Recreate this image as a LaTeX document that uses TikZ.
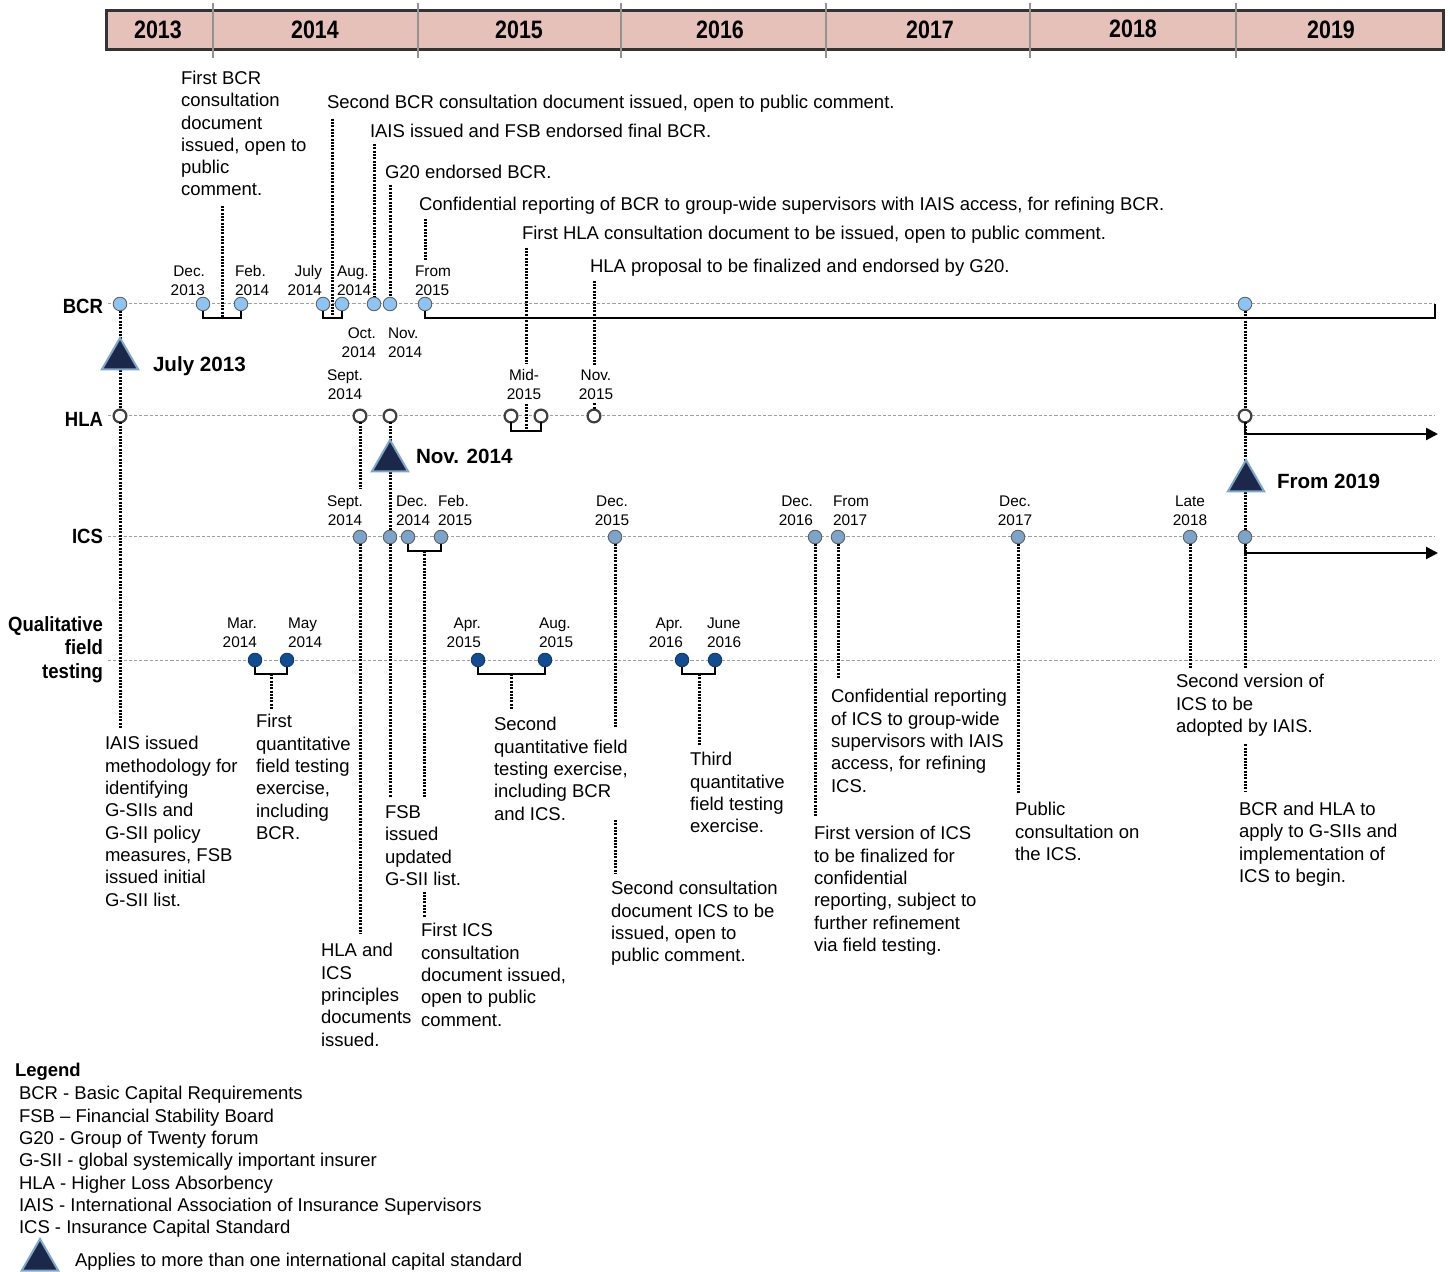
\documentclass[tikz,border=0pt]{standalone}
\usepackage{fontspec}
\setmainfont{Liberation Sans}
\newfontfamily\narrowbf{Liberation Sans}[FakeStretch=0.85]
\newfontfamily\rowbf{Liberation Sans}[FakeStretch=0.9]
\usetikzlibrary{shapes.geometric,arrows.meta}
\definecolor{barfill}{RGB}{229,193,185}
\definecolor{bcrblue}{RGB}{142,196,243}
\definecolor{icsblue}{RGB}{124,164,200}
\definecolor{qftblue}{RGB}{16,77,145}
\definecolor{trifill}{RGB}{27,40,74}
\definecolor{triedge}{RGB}{126,166,203}
\begin{document}
\begin{tikzpicture}[x=0.5pt,y=-0.5pt,
  every node/.style={inner sep=0pt, outer sep=0pt},
  txt/.style={font=\fontsize{9.25}{11.15}\selectfont, align=left, anchor=north west},
  dtc/.style={font=\fontsize{7.7}{9.5}\selectfont, align=center, anchor=north},
  dtl/.style={font=\fontsize{7.7}{9.5}\selectfont, align=left, anchor=north west},
  dtr/.style={font=\fontsize{7.7}{9.5}\selectfont, align=right, anchor=north east},
  year/.style={font=\narrowbf\bfseries\fontsize{12.6}{14}\selectfont},
  rowlbl/.style={font=\rowbf\bfseries\fontsize{10.3}{11.75}\selectfont, align=right},
  trilbl/.style={font=\bfseries\fontsize{10.3}{12}\selectfont, anchor=base west},
  conn/.style={line width=1.5pt, dash pattern=on 1pt off 0.65pt},
  rowline/.style={draw=gray!75, line width=0.5pt, dash pattern=on 1.6pt off 1pt},
  brk/.style={line width=1.2pt},
  hdr/.style={draw=black!80, line width=1.5pt, fill=barfill},
  yrdiv/.style={draw=gray!85, line width=1pt},
  dotB/.style={circle, minimum size=6.8pt, fill=bcrblue, draw=gray!70!black, line width=0.4pt},
  dotH/.style={circle, minimum size=6.4pt, fill=white, draw=black!75, line width=1.1pt},
  dotI/.style={circle, minimum size=6.8pt, fill=icsblue, draw=gray!70!black, line width=0.4pt},
  dotQ/.style={circle, minimum size=6.8pt, fill=qftblue, draw=qftblue!70!black, line width=0.4pt},
  tri/.style={regular polygon, regular polygon sides=3, minimum size=21pt, fill=trifill, draw=triedge, line width=1pt},
]
\useasboundingbox (0,0) rectangle (1450,1272);

% ---------- header ----------
\draw[hdr] (106,11) rectangle (1443,50);
\foreach \xx in {213,418,621,826,1030,1236} \draw[yrdiv] (\xx,3) -- (\xx,58);
\node[year] (y2013) at (158,30) {2013};
\node[year] (y2014) at (315,30) {2014};
\node[year] (y2015) at (519,30) {2015};
\node[year] (y2016) at (720,30) {2016};
\node[year] (y2017) at (930,30) {2017};
\node[year] (y2018) at (1133,29) {2018};
\node[year] (y2019) at (1331,30) {2019};

% ---------- row labels ----------
\node[rowlbl, anchor=east] (lBCR) at (103,306) {BCR};
\node[rowlbl, anchor=east] (lHLA) at (103,419) {HLA};
\node[rowlbl, anchor=east] (lICS) at (103,536) {ICS};
\node[rowlbl, anchor=north east] (lQFT) at (103,616.5) {Qualitative\\field\\testing};

% ---------- row lines ----------
\draw[rowline] (108,304) -- (1435,304);
\draw[rowline] (108,416) -- (1435,416);
\draw[rowline] (108,537) -- (1435,537);
\draw[rowline] (108,660) -- (1435,660);

% ---------- texts top ----------
\node[txt] (tFirstBCR) at (181,71) {First BCR\\consultation\\document\\issued, open to\\public\\comment.};
\node[txt] (tSecondBCR) at (327,95.5) {Second BCR consultation document issued, open to public comment.};
\node[txt] (tIAISfinal) at (370,124.5) {IAIS issued and FSB endorsed final BCR.};
\node[txt] (tG20) at (385,165.5) {G20 endorsed BCR.};
\node[txt] (tConfBCR) at (419,197.5) {Confidential reporting of BCR to group-wide supervisors with IAIS access, for refining BCR.};
\node[txt] (tFirstHLA) at (522,226.5) {First HLA consultation document to be issued, open to public comment.};
\node[txt] (tHLAprop) at (590,259.5) {HLA proposal to be finalized and endorsed by G20.};

% ---------- texts bottom ----------
\node[txt] (tIAISmeth) at (105,736.5) {IAIS issued\\methodology for\\identifying\\G-SIIs and\\G-SII policy\\measures, FSB\\issued initial\\G-SII list.};
\node[txt] (tFirstQFT) at (256,714.5) {First\\quantitative\\field testing\\exercise,\\including\\BCR.};
\node[txt] (tHLAICS) at (321,943.5) {HLA and\\ICS\\principles\\documents\\issued.};
\node[txt] (tFSB) at (385,805.5) {FSB\\issued\\updated\\G-SII list.};
\node[txt] (tFirstICS) at (421,923.5) {First ICS\\consultation\\document issued,\\open to public\\comment.};
\node[txt] (tSecondQFT) at (494,717.5) {Second\\quantitative field\\testing exercise,\\including BCR\\and ICS.};
\node[txt] (tSecondICS) at (611,881.5) {Second consultation\\document ICS to be\\issued, open to\\public comment.};
\node[txt] (tThirdQFT) at (690,752.5) {Third\\quantitative\\field testing\\exercise.};
\node[txt] (tFirstVer) at (814,826.5) {First version of ICS\\to be finalized for\\confidential\\reporting, subject to\\further refinement\\via field testing.};
\node[txt] (tConfICS) at (831,689.5) {Confidential reporting\\of ICS to group-wide\\supervisors with IAIS\\access, for refining\\ICS.};
\node[txt] (tPublic) at (1015,802.5) {Public\\consultation on\\the ICS.};
\node[txt] (tSecondVer) at (1176,674.5) {Second version of\\ICS to be\\adopted by IAIS.};
\node[txt] (tBCRHLA) at (1239,802) {BCR and HLA to\\apply to G-SIIs and\\implementation of\\ICS to begin.};

% ---------- date labels ----------
\node[dtr] (dDec13) at (205,265.5) {Dec.\\2013};
\node[dtl] (dFeb14) at (235,265.5) {Feb.\\2014};
\node[dtr] (dJul14) at (322,265.5) {July\\2014};
\node[dtl] (dAug14) at (337,265.5) {Aug.\\2014};
\node[dtl] (dFrom15) at (415,265.5) {From\\2015};
\node[dtr] (dOct14) at (376,327.5) {Oct.\\2014};
\node[dtl] (dNov14) at (388,327.5) {Nov.\\2014};
\node[dtc] (dSep14h) at (345,369.5) {Sept.\\2014};
\node[dtc] (dMid15) at (524,369.5) {Mid-\\2015};
\node[dtc] (dNov15) at (596,369.5) {Nov.\\2015};
\node[dtc] (dSep14i) at (345,495.5) {Sept.\\2014};
\node[dtl] (dDec14) at (396,495.5) {Dec.\\2014};
\node[dtl] (dFeb15) at (438,495.5) {Feb.\\2015};
\node[dtc] (dDec15) at (612,495.5) {Dec.\\2015};
\node[dtr] (dDec16) at (813,495.5) {Dec.\\2016};
\node[dtl] (dFrom17) at (833,495.5) {From\\2017};
\node[dtc] (dDec17) at (1015,495.5) {Dec.\\2017};
\node[dtc] (dLate18) at (1190,495.5) {Late\\2018};
\node[dtr] (dMar14) at (257,617.5) {Mar.\\2014};
\node[dtl] (dMay14) at (288,617.5) {May\\2014};
\node[dtr] (dApr15) at (481,617.5) {Apr.\\2015};
\node[dtl] (dAug15) at (539,617.5) {Aug.\\2015};
\node[dtr] (dApr16) at (683,617.5) {Apr.\\2016};
\node[dtl] (dJun16) at (707,617.5) {June\\2016};

% ---------- circles ----------
\node[dotB] (b1) at (120,304) {}; \node[dotB] (b2) at (203,304) {}; \node[dotB] (b3) at (241,304) {};
\node[dotB] (b4) at (323,304) {}; \node[dotB] (b5) at (342,304) {}; \node[dotB] (b6) at (374,304) {};
\node[dotB] (b7) at (390,304) {}; \node[dotB] (b8) at (425,304) {}; \node[dotB] (b9) at (1245,304) {};

\node[dotH] (h1) at (120,416) {}; \node[dotH] (h2) at (360,416) {}; \node[dotH] (h3) at (390,416) {};
\node[dotH] (h4) at (511,416) {}; \node[dotH] (h5) at (541,416) {}; \node[dotH] (h6) at (594,416) {};
\node[dotH] (h7) at (1245,416) {};

\node[dotI] (i1) at (360,537) {}; \node[dotI] (i2) at (390,537) {}; \node[dotI] (i3) at (408,537) {};
\node[dotI] (i4) at (441,537) {}; \node[dotI] (i5) at (615,537) {}; \node[dotI] (i6) at (815,537) {};
\node[dotI] (i7) at (838,537) {}; \node[dotI] (i8) at (1018,537) {}; \node[dotI] (i9) at (1190,537) {};
\node[dotI] (i10) at (1245,537) {};

\node[dotQ] (q1) at (255,660) {}; \node[dotQ] (q2) at (287,660) {}; \node[dotQ] (q3) at (478,660) {};
\node[dotQ] (q4) at (545,660) {}; \node[dotQ] (q5) at (682,660) {}; \node[dotQ] (q6) at (715,660) {};

% ---------- bracket coordinates ----------
\coordinate (bkB1) at (222,318);
\coordinate (bkB2) at (332.5,318);
\coordinate (bkBR) at (1435,318);
\coordinate (bkH) at (526,431);
\coordinate (bkI) at (424,551);
\coordinate (bkQ1) at (271,674);
\coordinate (bkQ2) at (511,674);
\coordinate (bkQ3) at (699,674);
\coordinate (arrH) at (1438,434);
\coordinate (arrI) at (1438,553);
\coordinate (c615a) at (615,727);
\coordinate (c615b) at (615,820);

% ---------- dotted connectors ----------
\draw[conn] ([yshift=-5pt]tFirstBCR.south -| bkB1) -- (bkB1);
\draw[conn] ([yshift=-3pt]tSecondBCR.south -| bkB2) -- (bkB2);
\draw[conn] ([yshift=-3pt]tIAISfinal.south -| b6) -- (b6.north);
\draw[conn] ([yshift=-3pt]tG20.south -| b7) -- (b7.north);
\draw[conn] ([yshift=-2pt]tConfBCR.south -| b8) -- ([yshift=2pt]dFrom15.north -| b8);
\draw[conn] ([yshift=-2pt]tFirstHLA.south -| bkH) -- ([yshift=3pt]dMid15.north -| bkH);
\draw[conn] ([yshift=-2pt]dMid15.south -| bkH) -- (bkH);
\draw[conn] ([yshift=-2pt]tHLAprop.south -| h6) -- ([yshift=2pt]dNov15.north -| h6);
\draw[conn] ([yshift=-2pt]dNov15.south -| h6) -- (h6.north);
\draw[conn] (b1.south) -- (h1.north);
\draw[conn] (h1.south) -- ([yshift=4pt]tIAISmeth.north -| h1);
\draw[conn] (h2.south) -- ([yshift=3pt]dSep14i.north -| h2);
\draw[conn] (i1.south) -- ([yshift=5pt]tHLAICS.north -| i1);
\draw[conn] (h3.south) -- (i2.north);
\draw[conn] (i2.south) -- ([yshift=4pt]tFSB.north -| i2);
\draw[conn] (bkI) -- ([yshift=4pt]tFSB.north -| bkI);
\draw[conn] ([yshift=-3pt]tFSB.south -| bkI) -- ([yshift=3pt]tFirstICS.north -| bkI);
\draw[conn] (i5.south) -- (c615a);
\draw[conn] (c615b) -- ([yshift=4pt]tSecondICS.north -| i5);
\draw[conn] (bkQ1) -- ([yshift=3pt]tFirstQFT.north -| bkQ1);
\draw[conn] (bkQ2) -- ([yshift=4.5pt]tSecondQFT.north -| bkQ2);
\draw[conn] (bkQ3) -- ([yshift=3.5pt]tThirdQFT.north -| bkQ3);
\draw[conn] (i6.south) -- ([yshift=4.5pt]tFirstVer.north -| i6);
\draw[conn] (i7.south) -- ([yshift=6pt]tConfICS.north -| i7);
\draw[conn] (i8.south) -- ([yshift=5pt]tPublic.north -| i8);
\draw[conn] (i9.south) -- ([yshift=3.5pt]tSecondVer.north -| i9);
\draw[conn] (b9.south) -- (h7.north);
\draw[conn] (h7.south) -- (i10.north);
\draw[conn] (i10.south) -- ([yshift=3.5pt]tSecondVer.north -| i10);
\draw[conn] ([yshift=-4pt]tSecondVer.south -| i10) -- ([yshift=5pt]tBCRHLA.north -| i10);

% ---------- brackets and arrows ----------
\draw[brk] (b2.south) |- (bkB1) -| (b3.south);
\draw[brk] (b4.south) |- (bkB2) -| (b5.south);
\draw[brk] (b8.south) |- (bkBR) -- (bkBR |- b8);
\draw[brk] (h4.south) |- (bkH) -| (h5.south);
\draw[brk] (i3.south) |- (bkI) -| (i4.south);
\draw[brk] (q1.south) |- (bkQ1) -| (q2.south);
\draw[brk] (q3.south) |- (bkQ2) -| (q4.south);
\draw[brk] (q5.south) |- (bkQ3) -| (q6.south);
\draw[brk, -{Triangle[length=6pt,width=6pt]}] (h7.south) |- (arrH);
\draw[brk, -{Triangle[length=6pt,width=6pt]}] (i10.south) |- (arrI);

% ---------- triangles ----------
\node[tri] (tri1) at (120,359) {};
\node[tri] (tri2) at (390,461) {};
\node[tri] (tri3) at (1246,481) {};
\node[trilbl] (lJuly) at (153,372) {July 2013};
\node[trilbl] (lNov) at (416,464) {Nov. 2014};
\node[trilbl] (lFrom) at (1277,489) {From 2019};

% ---------- legend ----------
\node[txt, font=\bfseries\fontsize{9.25}{11.15}\selectfont] (legTitle) at (15,1063.5) {Legend};
\node[txt] (legList) at (19,1086.5) {BCR - Basic Capital Requirements\\FSB – Financial Stability Board\\G20 - Group of Twenty forum\\G-SII - global systemically important insurer\\HLA - Higher Loss Absorbency\\IAIS - International Association of Insurance Supervisors\\ICS - Insurance Capital Standard};
\node[tri] (legTri) at (40,1260) {};
\node[txt] (legText) at (75,1253.5) {Applies to more than one international capital standard};
\end{tikzpicture}
\end{document}
